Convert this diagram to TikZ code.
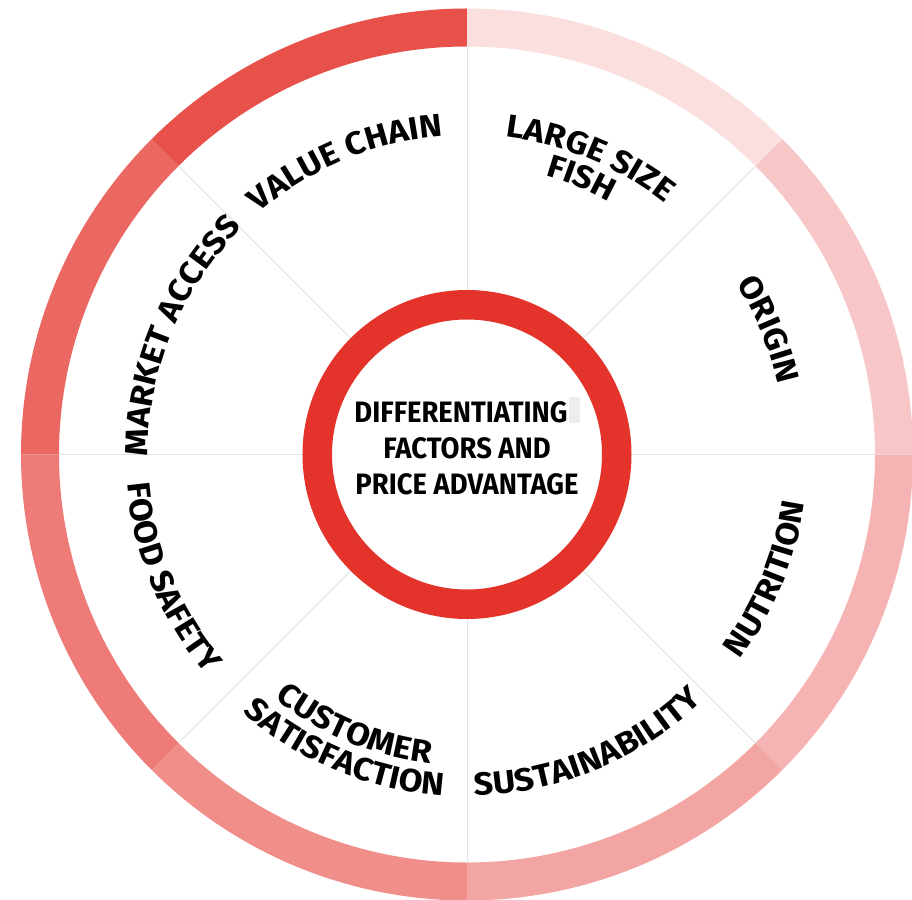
\documentclass[tikz,border=0pt]{standalone}
\usepackage{fontspec}
\setmainfont{Fira Sans}
\newfontfamily\labelfam[FakeStretch=1.08]{Fira Sans}
\usetikzlibrary{decorations.text}
\definecolor{segA}{HTML}{E8504A}
\definecolor{segB}{HTML}{EB6761}
\definecolor{segC}{HTML}{EE7B77}
\definecolor{segD}{HTML}{F08E89}
\definecolor{segE}{HTML}{F2A5A2}
\definecolor{segF}{HTML}{F5B4B3}
\definecolor{segG}{HTML}{F7C6C6}
\definecolor{segH}{HTML}{FBDFDF}
\definecolor{ringred}{HTML}{E3332A}
\definecolor{divider}{HTML}{E2E2E2}
\newcommand{\labelfont}{\labelfam\fontsize{32}{32}\selectfont\bfseries}
\newcommand{\corefont}{\fontsize{29.5}{29.5}\selectfont\bfseries}
\tikzset{
  divline/.style={draw=divider, line width=0.9pt},
  corering/.style={draw=ringred, line width=29.5pt},
  coretext/.style={anchor=base, inner sep=0pt, font=\corefont, text=black},
  uplabel/.style={decorate, decoration={text along path, text align=center, text={|\labelfont|#1}}},
}
\newcommand{\sector}[3]{%
  \fill[#3] (#1:446pt) arc[start angle=#1, end angle=#2, radius=446pt]
    -- (#2:408pt) arc[start angle=#2, end angle=#1, radius=408pt] -- cycle;}
\newcommand{\upperlabel}[3]{% angle, radius, text  (clockwise, tops outward)
  \path[uplabel={#3}] (#1+45:#2pt) arc[start angle=#1+45, end angle=#1-45, radius=#2pt];}
\newcommand{\lowerlabel}[3]{% angle, radius, text  (counter-clockwise, tops inward)
  \path[uplabel={#3}] (#1-45:#2pt) arc[start angle=#1-45, end angle=#1+45, radius=#2pt];}
\begin{document}
\begin{tikzpicture}[x=1pt,y=1pt]
\useasboundingbox (-467,-444.5) rectangle (445,454.5);
\fill[white] (-467,-444.5) rectangle (445,454.5);
% outer ring segments
\sector{90}{135}{segA}
\sector{135}{180}{segB}
\sector{180}{225}{segC}
\sector{225}{270}{segD}
\sector{270}{315}{segE}
\sector{315}{360}{segF}
\sector{0}{45}{segG}
\sector{45}{90}{segH}
% dividers
\foreach \a in {0,45,...,315}{\draw[divline] (\a:164pt) -- (\a:408pt);}
% inner ring
\coordinate (c) at (0,0);
\draw[corering] (c) circle (149.75pt);
% artifact box
\fill[black!7] (102,31) rectangle (113,57);
% centre text
\node[coretext] (t1) at (-6,31.5) {\scalebox{0.93}[1]{DIFFERENTIATING}};
\node[coretext] (t2) at (0,-3.5) {\scalebox{0.93}[1]{FACTORS AND}};
\node[coretext] (t3) at (0,-39.5) {\scalebox{0.93}[1]{PRICE ADVANTAGE}};
% labels
\upperlabel{112.5}{319}{VALUE CHAIN}
\upperlabel{157.5}{319}{MARKET ACCESS}
\upperlabel{22.5}{319}{ORIGIN}
\upperlabel{67.5}{320}{LARGE SIZE}
\upperlabel{67.5}{290}{FISH}
\lowerlabel{-22.5}{341}{NUTRITION}
\lowerlabel{-67.5}{341}{SUSTAINABILITY}
\lowerlabel{-112.5}{342}{SATISFACTION}
\lowerlabel{-112.5}{311}{CUSTOMER}
\lowerlabel{-157.5}{341}{FOOD SAFETY}
\end{tikzpicture}
\end{document}
